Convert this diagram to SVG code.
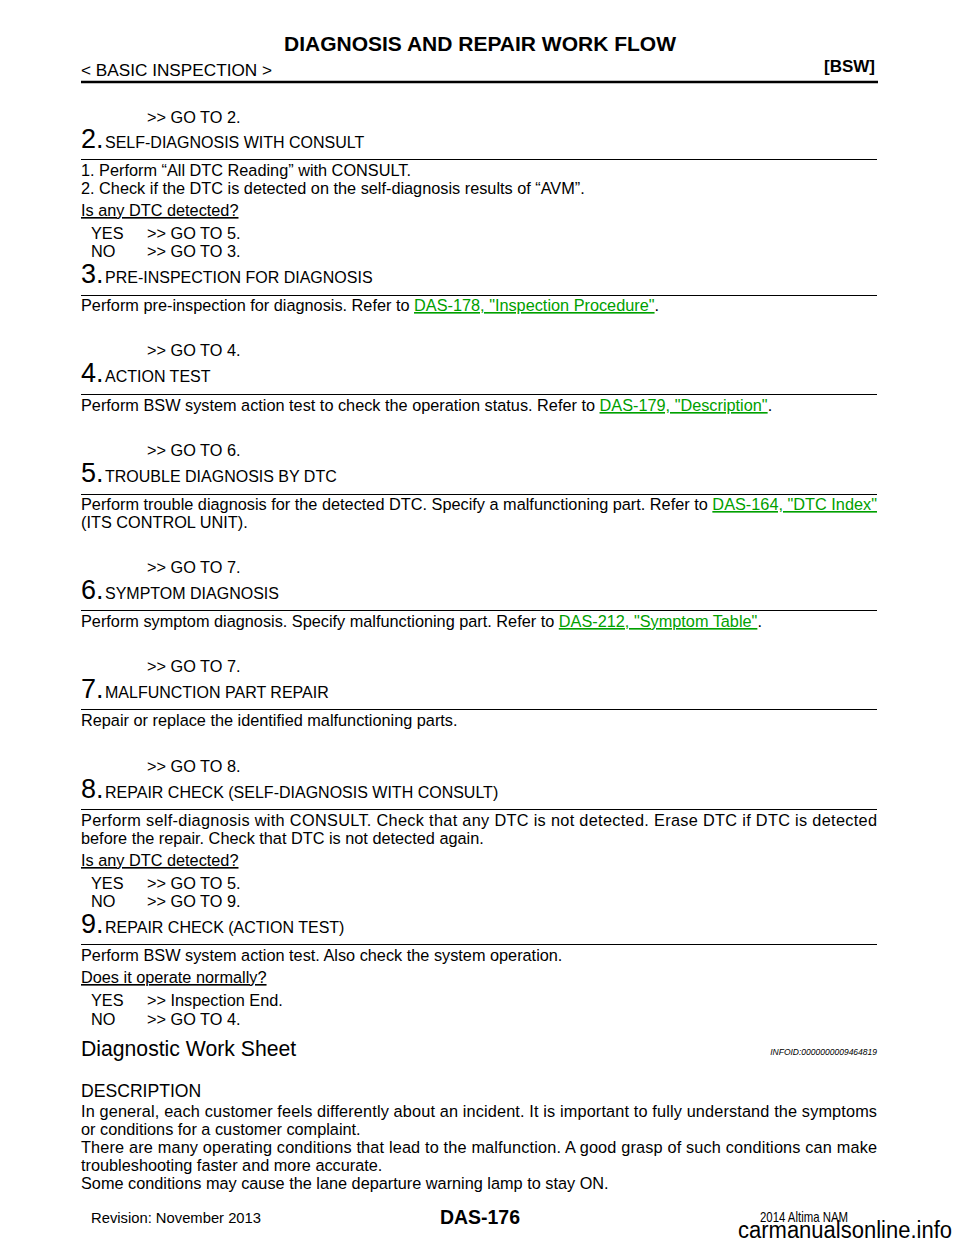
<svg xmlns="http://www.w3.org/2000/svg" width="960" height="1242" viewBox="0 0 960 1242">
<style>
text{font-family:"Liberation Sans",Arial,sans-serif;fill:#000}
.b{font-size:16.3px}
.n{font-size:27px}
.h{font-size:16px}
.l{fill:#00a000;text-decoration:underline}
.u{text-decoration:underline}
.r{stroke:#000;stroke-width:1}
</style>
<rect width="960" height="1242" fill="#fff"/>
<g id="header">
<text x="480" y="51" text-anchor="middle" font-size="21" font-weight="bold">DIAGNOSIS AND REPAIR WORK FLOW</text>
<text x="81" y="76" font-size="17.2">&lt; BASIC INSPECTION &gt;</text>
<text x="875" y="72" text-anchor="end" font-size="17" font-weight="bold">[BSW]</text>
<line x1="81" y1="82" x2="878" y2="82" stroke="#000" stroke-width="2.5"/>
</g>
<g id="body">
<text x="147" y="123" class="b">&gt;&gt; GO TO 2.</text>
<text x="81" y="148" class="n">2.</text><text x="105" y="148" class="h">SELF-DIAGNOSIS WITH CONSULT</text>
<line class="r" x1="81" y1="159.5" x2="877" y2="159.5"/>
<text x="81" y="176" class="b">1.   Perform “All DTC Reading” with CONSULT.</text>
<text x="81" y="194" class="b">2.   Check if the DTC is detected on the self-diagnosis results of “AVM”.</text>
<text x="81" y="216" class="b u">Is any DTC detected?</text>
<text x="91" y="239" class="b">YES</text><text x="147" y="239" class="b">&gt;&gt; GO TO 5.</text>
<text x="91" y="257" class="b">NO</text><text x="147" y="257" class="b">&gt;&gt; GO TO 3.</text>

<text x="81" y="283" class="n">3.</text><text x="105" y="283" class="h">PRE-INSPECTION FOR DIAGNOSIS</text>
<line class="r" x1="81" y1="295.5" x2="877" y2="295.5"/>
<text x="81" y="311" class="b">Perform pre-inspection for diagnosis. Refer to <tspan class="l">DAS-178, "Inspection Procedure"</tspan>.</text>
<text x="147" y="356" class="b">&gt;&gt; GO TO 4.</text>

<text x="81" y="382" class="n">4.</text><text x="105" y="382" class="h">ACTION TEST</text>
<line class="r" x1="81" y1="394.5" x2="877" y2="394.5"/>
<text x="81" y="411" class="b">Perform BSW system action test to check the operation status. Refer to <tspan class="l">DAS-179, "Description"</tspan>.</text>
<text x="147" y="456" class="b">&gt;&gt; GO TO 6.</text>

<text x="81" y="482" class="n">5.</text><text x="105" y="482" class="h">TROUBLE DIAGNOSIS BY DTC</text>
<line class="r" x1="81" y1="494.5" x2="877" y2="494.5"/>
<text x="81" y="510" class="b" textLength="796" lengthAdjust="spacingAndGlyphs">Perform trouble diagnosis for the detected DTC. Specify a malfunctioning part. Refer to <tspan class="l">DAS-164, "DTC Index"</tspan></text>
<text x="81" y="528" class="b">(ITS CONTROL UNIT).</text>
<text x="147" y="573" class="b">&gt;&gt; GO TO 7.</text>

<text x="81" y="599" class="n">6.</text><text x="105" y="599" class="h">SYMPTOM DIAGNOSIS</text>
<line class="r" x1="81" y1="610.5" x2="877" y2="610.5"/>
<text x="81" y="627" class="b">Perform symptom diagnosis. Specify malfunctioning part. Refer to <tspan class="l">DAS-212, "Symptom Table"</tspan>.</text>
<text x="147" y="672" class="b">&gt;&gt; GO TO 7.</text>

<text x="81" y="698" class="n">7.</text><text x="105" y="698" class="h">MALFUNCTION PART REPAIR</text>
<line class="r" x1="81" y1="709.5" x2="877" y2="709.5"/>
<text x="81" y="726" class="b">Repair or replace the identified malfunctioning parts.</text>
<text x="147" y="772" class="b">&gt;&gt; GO TO 8.</text>

<text x="81" y="798" class="n">8.</text><text x="105" y="798" class="h">REPAIR CHECK (SELF-DIAGNOSIS WITH CONSULT)</text>
<line class="r" x1="81" y1="809.5" x2="877" y2="809.5"/>
<text x="81" y="826" class="b" textLength="796" lengthAdjust="spacing">Perform self-diagnosis with CONSULT. Check that any DTC is not detected. Erase DTC if DTC is detected</text>
<text x="81" y="844" class="b">before the repair. Check that DTC is not detected again.</text>
<text x="81" y="866" class="b u">Is any DTC detected?</text>
<text x="91" y="889" class="b">YES</text><text x="147" y="889" class="b">&gt;&gt; GO TO 5.</text>
<text x="91" y="907" class="b">NO</text><text x="147" y="907" class="b">&gt;&gt; GO TO 9.</text>

<text x="81" y="933" class="n">9.</text><text x="105" y="933" class="h">REPAIR CHECK (ACTION TEST)</text>
<line class="r" x1="81" y1="944.5" x2="877" y2="944.5"/>
<text x="81" y="961" class="b">Perform BSW system action test. Also check the system operation.</text>
<text x="81" y="983" class="b u">Does it operate normally?</text>
<text x="91" y="1006" class="b">YES</text><text x="147" y="1006" class="b">&gt;&gt; Inspection End.</text>
<text x="91" y="1025" class="b">NO</text><text x="147" y="1025" class="b">&gt;&gt; GO TO 4.</text>

<text x="81" y="1056" font-size="21.2">Diagnostic Work Sheet</text>
<text x="877" y="1055" text-anchor="end" font-size="8.5" font-style="italic">INFOID:0000000009464819</text>
<text x="81" y="1097" font-size="17.6">DESCRIPTION</text>
<text x="81" y="1117" class="b" textLength="796" lengthAdjust="spacing">In general, each customer feels differently about an incident. It is important to fully understand the symptoms</text>
<text x="81" y="1135" class="b">or conditions for a customer complaint.</text>
<text x="81" y="1153" class="b" textLength="796" lengthAdjust="spacing">There are many operating conditions that lead to the malfunction. A good grasp of such conditions can make</text>
<text x="81" y="1171" class="b">troubleshooting faster and more accurate.</text>
<text x="81" y="1189" class="b">Some conditions may cause the lane departure warning lamp to stay ON.</text>
</g>
<g id="footer">
<text x="91" y="1223" font-size="15" textLength="170" lengthAdjust="spacingAndGlyphs">Revision: November 2013</text>
<text x="480" y="1224" text-anchor="middle" font-size="20" font-weight="bold" textLength="80" lengthAdjust="spacingAndGlyphs">DAS-176</text>
<text x="760" y="1222" font-size="15" textLength="88" lengthAdjust="spacingAndGlyphs">2014 Altima NAM</text>
<text x="738" y="1238" font-size="23" fill="#a0a0a0" textLength="214" lengthAdjust="spacingAndGlyphs">carmanualsonline.info</text>
</g>
</svg>
